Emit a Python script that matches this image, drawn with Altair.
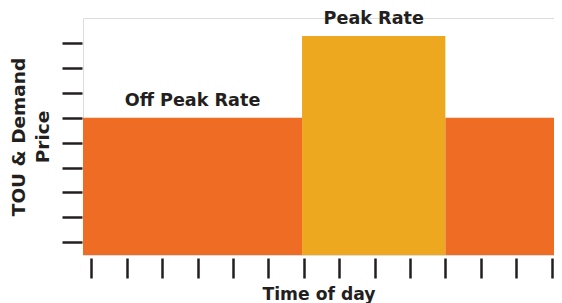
import altair as alt
import pandas as pd

# Data
seg_start = [-0.24, 5.95, 10.0]
seg_end = [5.95, 10.0, 13.07]
rate = [5.0, 8.3, 5.0]
seg_kind = ["Off Peak", "Peak", "Off Peak"]
seg_label = ["Off Peak Rate", "Peak Rate", ""]
base = -0.52
x_ticks = list(range(14))
y_ticks = list(range(9))
x_domain = [-0.24, 13.07]
y_domain = [-0.52, 9.02]

df = pd.DataFrame({
    "start": seg_start,
    "end": seg_end,
    "rate": rate,
    "base": [base] * len(rate),
    "kind": seg_kind,
    "label": seg_label,
})
df["mid"] = (df["start"] + df["end"]) / 2

FONT = "DejaVu Sans"
DARK = "#231f20"

xs = alt.Scale(domain=x_domain, nice=False, zero=False)
ys = alt.Scale(domain=y_domain, nice=False, zero=False)

bars = alt.Chart(df).mark_rect().encode(
    x=alt.X("start:Q", scale=xs, axis=alt.Axis(
        values=x_ticks, tickCount=40, labels=False, domain=False, grid=False,
        tickSize=20, tickWidth=2.5, tickColor=DARK, offset=3,
        title="Time of day", titleFont=FONT, titleFontSize=17.2,
        titleFontWeight="bold", titleColor=DARK, titlePadding=6)),
    x2="end:Q",
    y=alt.Y("rate:Q", scale=ys, axis=alt.Axis(
        values=y_ticks, tickCount=40, labels=False, domain=False, grid=False,
        tickSize=20, tickWidth=2.5, tickColor=DARK, offset=1,
        title=["TOU & Demand", "Price"], titleFont=FONT, titleFontSize=18.5,
        titleFontWeight="bold", titleColor=DARK, titlePadding=8,
        titleLineHeight=24)),
    y2="base:Q",
    color=alt.Color("kind:N", scale=alt.Scale(domain=["Off Peak", "Peak"],
                                              range=["#EE6C24", "#EEA820"]),
                    legend=None),
)

labels = alt.Chart(df).mark_text(
    font=FONT, fontSize=17.6, fontWeight="bold", color=DARK,
    baseline="alphabetic", align="center", dy=-12,
).encode(
    x=alt.X("mid:Q", scale=xs),
    y=alt.Y("rate:Q", scale=ys),
    text="label:N",
)

chart = (bars + labels).properties(
    width=471, height=237,
    autosize=alt.AutoSizeParams(type="none"),
    padding={"left": 75, "top": 10, "right": 0, "bottom": 48},
).configure_view(stroke="transparent", strokeWidth=0).configure(background="white")

chart.save("out.html", embed_options={"renderer": "svg", "actions": False})
